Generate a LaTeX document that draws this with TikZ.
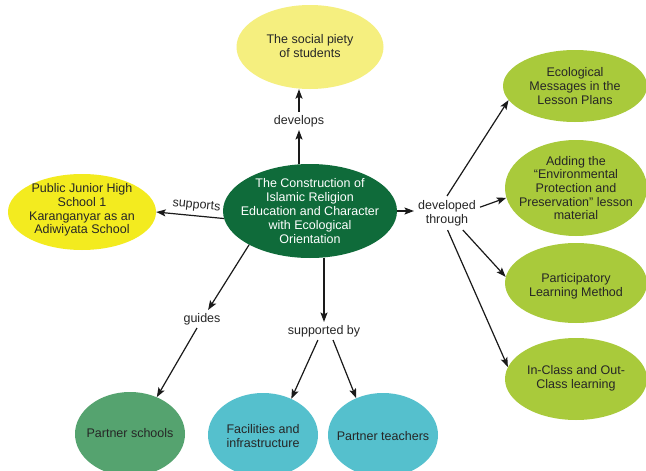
\documentclass[tikz,border=0pt]{standalone}
\usepackage{fontspec}
\setmainfont{Liberation Sans}
\usetikzlibrary{shapes.geometric,arrows.meta}
\definecolor{txtcol}{HTML}{262626}
\definecolor{arrcol}{HTML}{1A1A1A}
\definecolor{piety}{HTML}{F5EF7F}
\definecolor{pubyel}{HTML}{F3EB1F}
\definecolor{central}{HTML}{0F6B3A}
\definecolor{lime}{HTML}{A9CA3B}
\definecolor{partner}{HTML}{55A36F}
\definecolor{cyanish}{HTML}{55C0CD}
\begin{document}
\begin{tikzpicture}[x=1pt,y=-1pt,
  ell/.style={ellipse, inner sep=0pt, draw=none},
  txt/.style={align=center, font=\fontsize{12.5}{13.6}\selectfont, text=txtcol, inner sep=0pt},
  lbl/.style={align=center, font=\fontsize{12.5}{14}\selectfont, text=txtcol, inner sep=3pt},
  arr/.style={-{Stealth[length=9.5pt,width=7pt,inset=2pt]}, line width=1.2pt, draw=arrcol}]
\clip (0,0) rectangle (646,471);
\fill[white] (0,0) rectangle (646,471);

% ellipses
\node[ell, fill=central, minimum width=174pt, minimum height=94pt] (c) at (310,211) {};
\node[txt, text=white, font=\fontsize{12.5}{14}\selectfont] (ct) at (c) {The Construction of\\Islamic Religion\\Education and Character\\with Ecological\\Orientation};

\node[ell, fill=piety, minimum width=147pt, minimum height=84pt] (sp) at (310,47) {};
\node[txt] (spt) at (310,46) {The social piety\\of students};

\node[ell, fill=pubyel, minimum width=148pt, minimum height=76pt] (pj) at (82,212) {};
\node[txt] (pjt) at (82,210) {Public Junior High\\School 1\\Karanganyar as an\\Adiwiyata School};

\node[ell, fill=lime, minimum width=144pt, minimum height=72pt] (e1) at (575,86) {};
\node[txt] (e1t) at (e1) {Ecological\\Messages in the\\Lesson Plans};

\node[ell, fill=lime, minimum width=142pt, minimum height=96pt] (e2) at (576,188) {};
\node[txt] (e2t) at (e2) {Adding the\\``Environmental\\Protection and\\Preservation'' lesson\\material};

\node[ell, fill=lime, minimum width=142pt, minimum height=80pt] (e3) at (576,283) {};
\node[txt] (e3t) at (576,286) {Participatory\\Learning Method};

\node[ell, fill=lime, minimum width=142pt, minimum height=82pt] (e4) at (576,379) {};
\node[txt] (e4t) at (576,378) {In-Class and Out-\\Class learning};

\node[ell, fill=partner, minimum width=110pt, minimum height=84pt] (ps) at (130,434) {};
\node[txt] (pst) at (130,433) {Partner schools};

\node[ell, fill=cyanish, minimum width=110pt, minimum height=84pt] (fi) at (263,435) {};
\node[txt] (fit) at (263,436) {Facilities and\\infrastructure};

\node[ell, fill=cyanish, minimum width=110pt, minimum height=84pt] (pt) at (383,435) {};
\node[txt] (ptt) at (383,436) {Partner teachers};

% labels
\node[lbl] (dev) at (299,121) {develops};
\node[lbl] (gui) at (202,319) {guides};
\node[lbl] (spb) at (324,331) {supported by};
\node[lbl, inner sep=4pt] (dth) at (447,213) {developed\\through};

% connectors
\draw[arr] (c.north -| dev.south) -- (dev.south);
\draw[arr] (dev.north) -- (dev.north |- sp.south);
\draw[arr] (c.185) -- node[lbl, pos=0.42, above=1pt, sloped] (sup) {supports} (pj.0);
\draw[arr] (c.east) -- (c.east -| dth.west);
\draw[arr] (dth.north) -- (e1.192);
\draw[arr] (dth.10) -- (e2.188);
\draw[arr] (dth.313) -- (e3.175);
\draw[arr] (dth.272) -- (e4.170);
\draw[arr] (c.209) -- (gui.56);
\draw[arr] (gui.241) -- (ps.54);
\draw[arr] (c.south -| spb.north) -- (spb.north);
\draw[arr] (spb.236) -- (fi.52);
\draw[arr] (spb.315) -- (pt.126);
\end{tikzpicture}
\end{document}
